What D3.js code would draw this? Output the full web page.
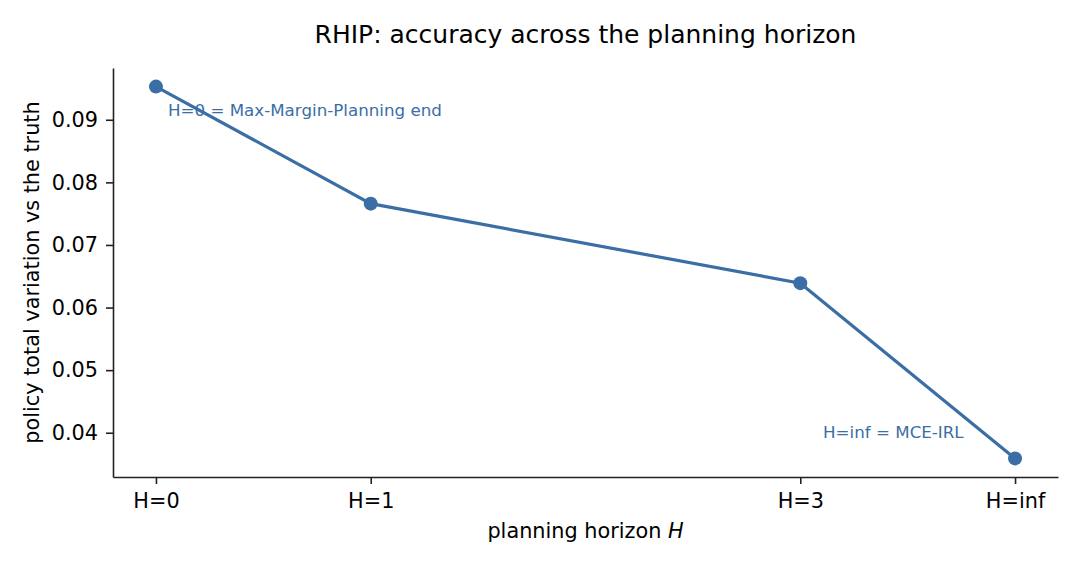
<!DOCTYPE html>
<html lang="en">
<head>
    <meta charset="UTF-8">
    <title>RHIP planning horizon</title>
    <script src="https://d3js.org/d3.v7.min.js"></script>
    <style>
        body { margin: 0; background: #fff; }
        text { font-family: "DejaVu Sans", sans-serif; fill: #000; }
        .line { fill: none; stroke: #3a6ea5; stroke-width: 3.2px; }
        .axis path, .axis line { stroke: #222; stroke-width: 1.6px; }
        .axis text { font-size: 20.8px; }
        .note { font-size: 16.7px; fill: #3a6ea5; }
    </style>
</head>
<body>
    <svg id="chart" width="1080" height="570"></svg>
    <script>
        // data
        var horizons = ["H=0", "H=1", "H=3", "H=inf"];
        var positions = [0, 1, 3, 4];          // H=inf drawn one step past H=3
        var values = [0.0953, 0.0766, 0.0639, 0.0359];
        var yTicks = [0.04, 0.05, 0.06, 0.07, 0.08, 0.09];

        var data = horizons.map(function(h, i) {
            return {label: h, pos: positions[i], value: values[i]};
        });

        var margin = {top: 68, right: 22, bottom: 93, left: 113},
            width = 1080 - margin.left - margin.right,
            height = 570 - margin.top - margin.bottom;

        var svg = d3.select("#chart")
            .append("g")
            .attr("transform", "translate(" + margin.left + "," + margin.top + ")");

        // matplotlib style 5% padding
        var xMin = d3.min(positions), xMax = d3.max(positions);
        var xPad = (xMax - xMin) * 0.05;
        var x = d3.scaleLinear().domain([xMin - xPad, xMax + xPad]).range([0, width]);

        var yMin = d3.min(values), yMax = d3.max(values);
        var yPad = (yMax - yMin) * 0.05;
        var y = d3.scaleLinear().domain([yMin - yPad, yMax + yPad]).range([height, 0]);

        // axes
        var xAxis = svg.append("g")
            .attr("class", "axis")
            .attr("transform", "translate(0," + height + ")")
            .call(d3.axisBottom(x)
                .tickValues(positions)
                .tickFormat(function(d, i) { return horizons[i]; })
                .tickSize(7).tickPadding(7).tickSizeOuter(0));
        xAxis.selectAll("text").attr("dy", "0.8em");

        svg.append("g")
            .attr("class", "axis")
            .call(d3.axisLeft(y)
                .tickValues(yTicks)
                .tickFormat(d3.format(".2f"))
                .tickSize(7).tickPadding(8).tickSizeOuter(0));

        // line and markers
        var line = d3.line()
            .x(function(d) { return x(d.pos); })
            .y(function(d) { return y(d.value); });

        svg.append("path")
            .datum(data)
            .attr("class", "line")
            .attr("d", line);

        svg.selectAll(".dot")
            .data(data)
            .enter().append("circle")
            .attr("class", "dot")
            .attr("cx", function(d) { return x(d.pos); })
            .attr("cy", function(d) { return y(d.value); })
            .attr("r", 7)
            .attr("fill", "#3a6ea5");

        // annotations
        svg.append("text")
            .attr("class", "note")
            .attr("x", x(positions[0]) + 12)
            .attr("y", y(values[0]) + 29)
            .text("H=0 = Max-Margin-Planning end");

        svg.append("text")
            .attr("class", "note")
            .attr("x", x(positions[3]) - 192)
            .attr("y", y(values[3]) - 20)
            .text("H=inf = MCE-IRL");

        // title and axis labels
        svg.append("text")
            .attr("x", width / 2)
            .attr("y", -25)
            .attr("text-anchor", "middle")
            .style("font-size", "25px")
            .text("RHIP: accuracy across the planning horizon");

        var xl = svg.append("text")
            .attr("x", width / 2)
            .attr("y", height + 61)
            .attr("text-anchor", "middle")
            .style("font-size", "20.8px");
        xl.append("tspan").text("planning horizon ");
        xl.append("tspan").style("font-style", "italic").text("H");

        svg.append("text")
            .attr("transform", "translate(" + (-74) + "," + (height / 2) + ") rotate(-90)")
            .attr("text-anchor", "middle")
            .style("font-size", "20.8px")
            .text("policy total variation vs the truth");
    </script>
</body>
</html>
